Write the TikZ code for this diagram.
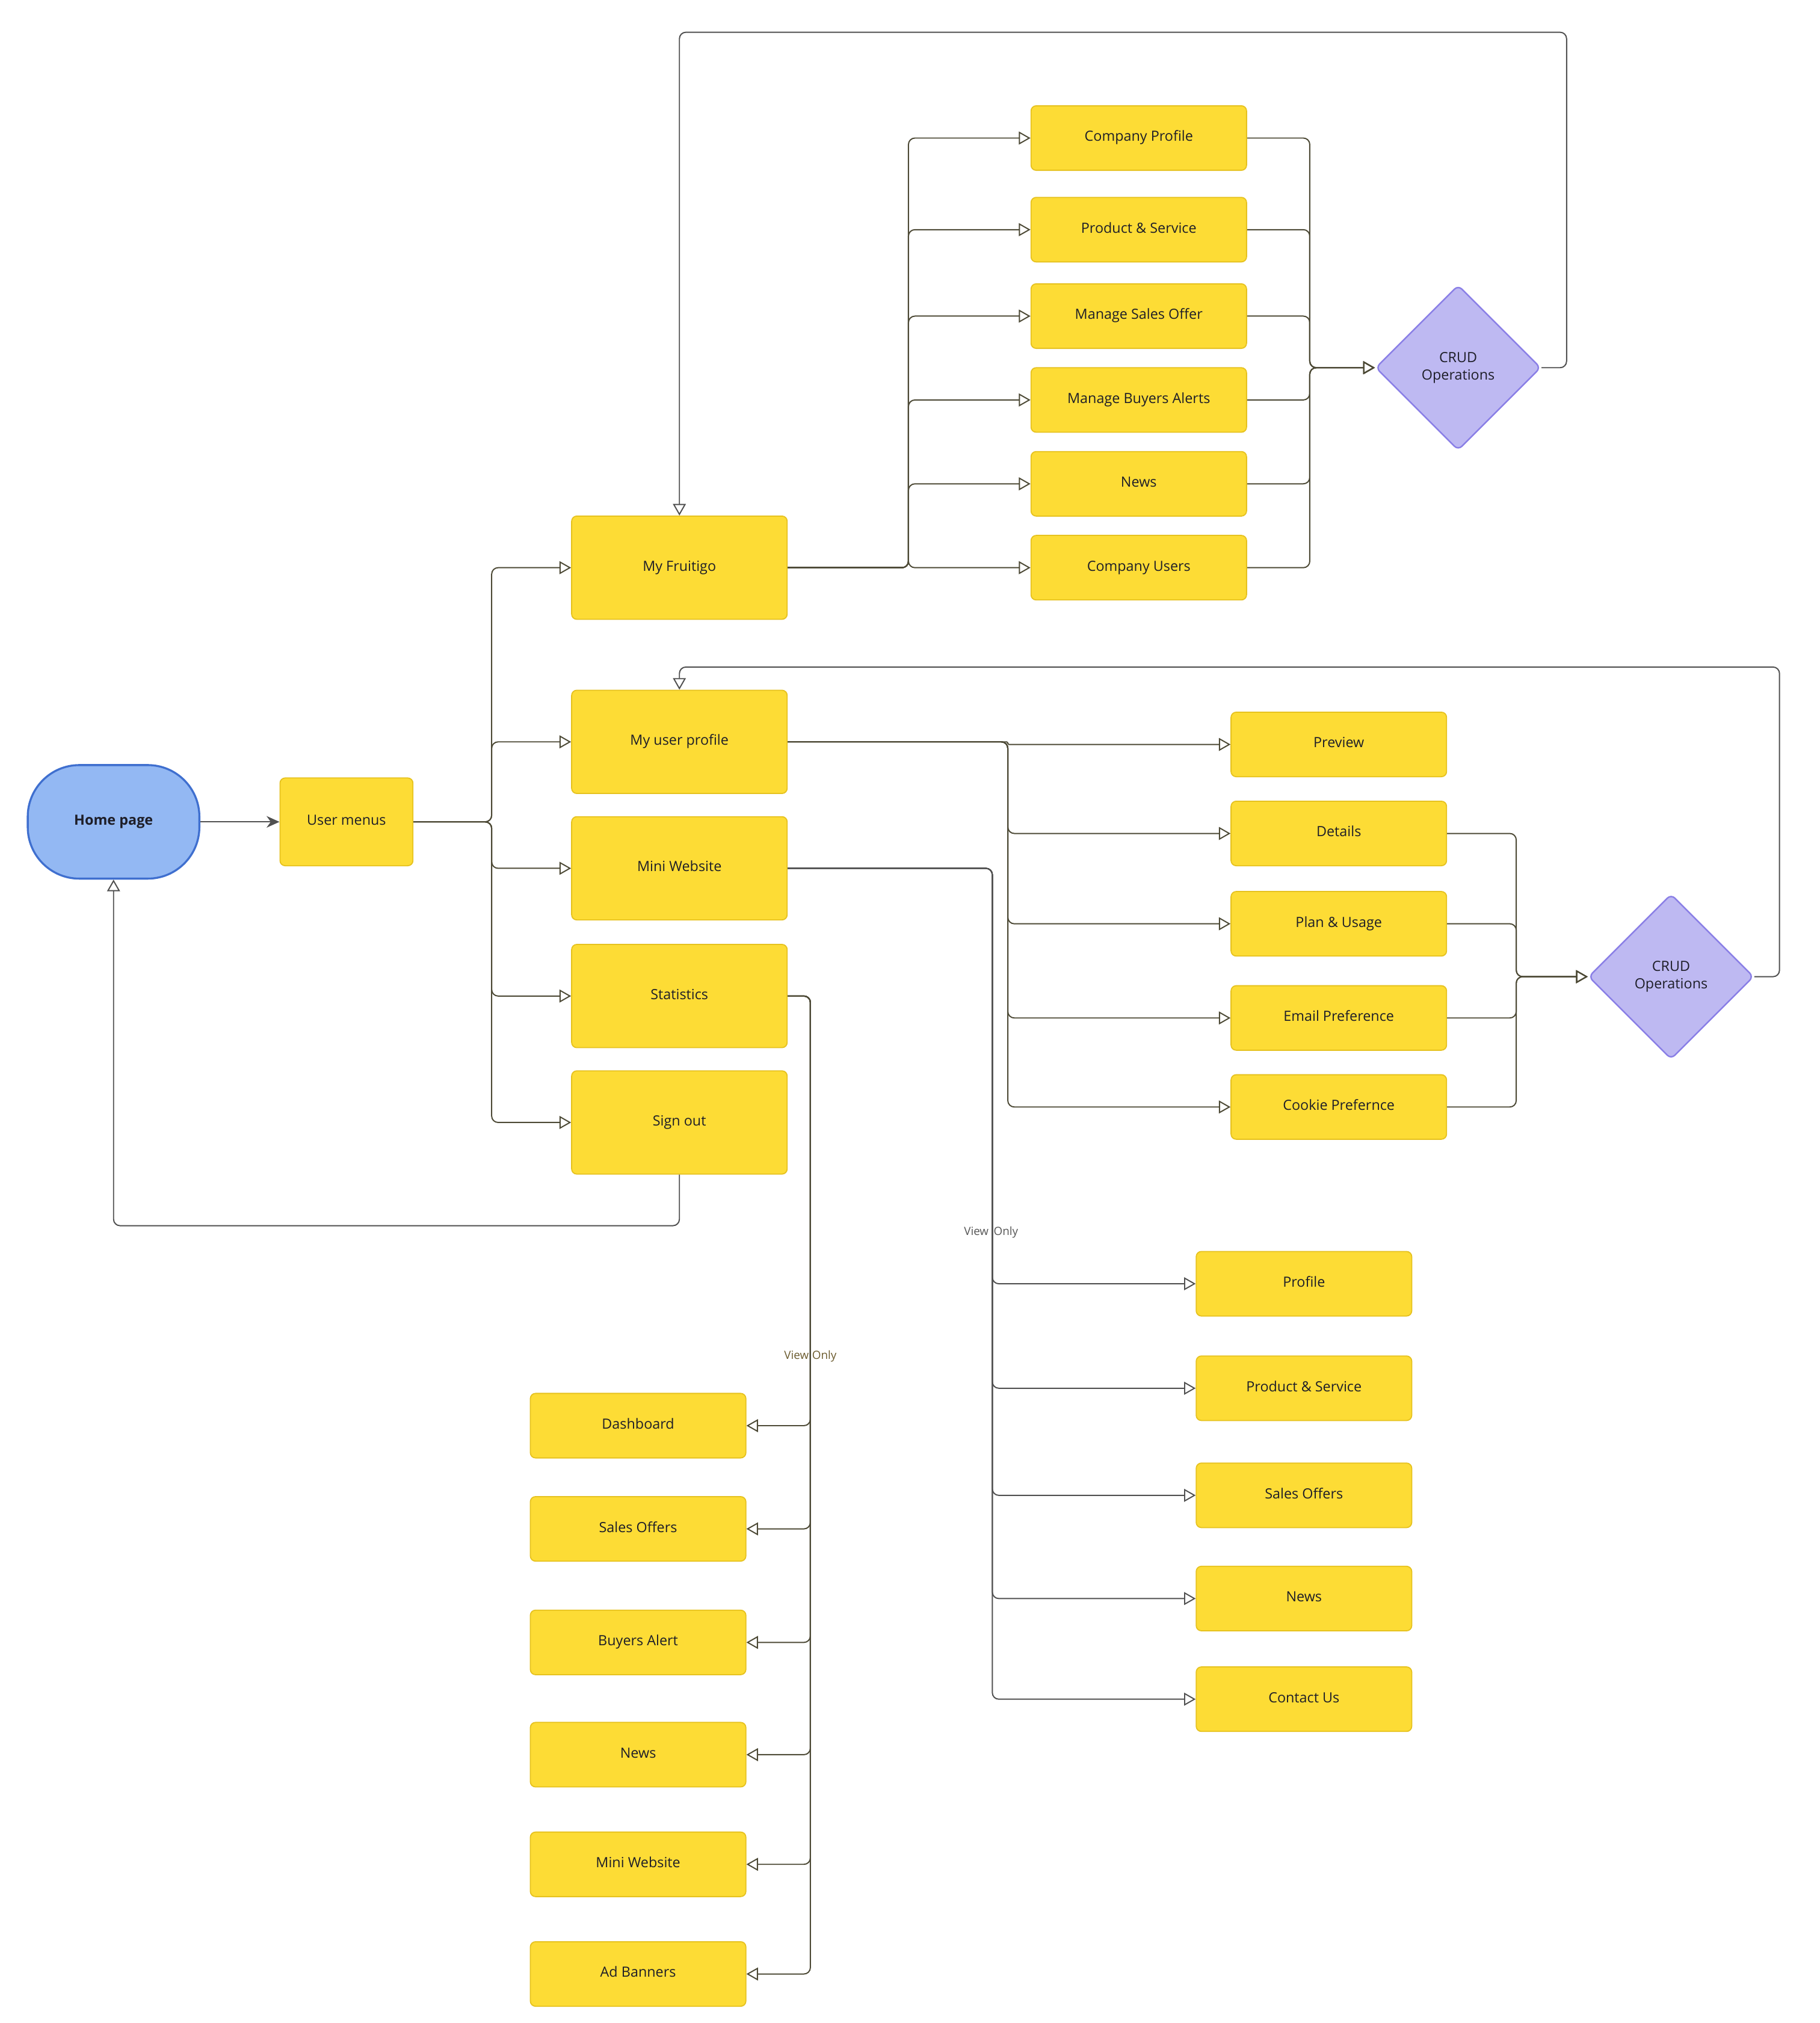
\documentclass[tikz,border=0pt]{standalone}
\usepackage{fontspec}
\setmainfont{Open Sans}
\usetikzlibrary{arrows.meta,shapes.geometric}
\definecolor{boxfill}{HTML}{FDDC35}
\definecolor{boxdraw}{HTML}{E6C21F}
\definecolor{homefill}{HTML}{93B8F3}
\definecolor{homedraw}{HTML}{3F6FCF}
\definecolor{crudfill}{HTML}{BEB9F2}
\definecolor{cruddraw}{HTML}{8A7FE6}
\definecolor{linec}{HTML}{4D4A36}
\definecolor{lineg}{HTML}{505050}
\definecolor{txt}{HTML}{1E1E28}
\definecolor{lblbrown}{HTML}{6B5B2E}
\definecolor{lblgray}{HTML}{555555}
\begin{document}
\begin{tikzpicture}[x=0.5mm,y=-0.5mm,
  font=\fontsize{15.5}{19}\selectfont, text=txt,
  bigbox/.style={draw=boxdraw, fill=boxfill, line width=1.2pt, rounded corners=2mm,
    minimum width=83.5mm, minimum height=40mm, inner sep=0pt, text height=0.72em, text depth=0pt},
  smallbox/.style={bigbox, minimum height=25mm},
  menubox/.style={bigbox, minimum width=51.5mm, minimum height=34mm},
  homebox/.style={draw=homedraw, fill=homefill, line width=2.2pt, rounded corners=20mm,
    minimum width=66.5mm, minimum height=44mm, inner sep=0pt, text height=0.72em, text depth=0pt,
    font=\fontsize{15.5}{19}\selectfont\bfseries},
  crud/.style={diamond, draw=cruddraw, fill=crudfill, line width=1.6pt, minimum width=64mm,
    minimum height=64mm, inner sep=0pt, rounded corners=2mm, align=center},
  conn/.style={draw=linec, line width=1.3pt, rounded corners=2.5mm},
  oarr/.style={conn, -{Triangle[open, length=4.5mm, width=5mm, line width=1.3pt]}},
  garr/.style={oarr, draw=lineg},
  harr/.style={draw=lineg, line width=1.3pt, -{Stealth[length=5mm, width=4.5mm]}},
  lbl/.style={font=\fontsize{12.5}{15}\selectfont, inner sep=0pt}
]
\useasboundingbox (0,0) rectangle (1410,1568);

% main nodes
\node[homebox] (home) at (88,637) {Home page};
\node[menubox] (um) at (268.5,637) {User menus};

\node[bigbox] (mf)  at (526.5,440) {My Fruitigo};
\node[bigbox] (mup) at (526.5,575) {My user profile};
\node[bigbox] (mw)  at (526.5,673) {Mini Website};
\node[bigbox] (st)  at (526.5,772) {Statistics};
\node[bigbox] (so)  at (526.5,870) {Sign out};

% My Fruitigo group
\node[smallbox] (cp)  at (882.5,107) {Company Profile};
\node[smallbox] (ps)  at (882.5,178) {Product \& Service};
\node[smallbox] (mso) at (882.5,245) {Manage Sales Offer};
\node[smallbox] (mba) at (882.5,310) {Manage Buyers Alerts};
\node[smallbox] (nw)  at (882.5,375) {News};
\node[smallbox] (cu)  at (882.5,440) {Company Users};
\node[crud] (crudA) at (1130,285) {CRUD\\Operations};

% My user profile group
\node[smallbox] (pv) at (1037.5,577) {Preview};
\node[smallbox] (dt) at (1037.5,646) {Details};
\node[smallbox] (pu) at (1037.5,716) {Plan \& Usage};
\node[smallbox] (ep) at (1037.5,789) {Email Preference};
\node[smallbox] (ck) at (1037.5,858) {Cookie Prefernce};
\node[crud] (crudB) at (1295,757) {CRUD\\Operations};

% Mini website group
\node[smallbox] (pr)  at (1010.5,995)  {Profile};
\node[smallbox] (psB) at (1010.5,1076) {Product \& Service};
\node[smallbox] (soB) at (1010.5,1159) {Sales Offers};
\node[smallbox] (nwB) at (1010.5,1239) {News};
\node[smallbox] (cuB) at (1010.5,1317) {Contact Us};

% Statistics group
\node[smallbox] (db)  at (494.5,1105) {Dashboard};
\node[smallbox] (sof) at (494.5,1185) {Sales Offers};
\node[smallbox] (ba)  at (494.5,1273) {Buyers Alert};
\node[smallbox] (nwC) at (494.5,1360) {News};
\node[smallbox] (mwC) at (494.5,1445) {Mini Website};
\node[smallbox] (ab)  at (494.5,1530) {Ad Banners};

% connectors
\draw[harr] (home) -- (um);
\foreach \n in {mf,mup,mw,st,so}
  \draw[oarr] (um.east) -- (381,637) |- (\n.west);

\foreach \n in {cp,ps,mso,mba,nw,cu}
  \draw[oarr] (mf.east) -- (704,440) |- (\n.west);
\foreach \n in {cp,ps,mso,mba,nw,cu}
  \draw[oarr] (\n.east) -| (1015,285) -- (crudA.west);
\draw[garr] (crudA.east) -| (1214,25) -| (mf.north);

\draw[oarr, rounded corners=0.4mm] (mup.east) -- (781,575) |- (pv.west);
\foreach \n in {dt,pu,ep,ck}
  \draw[oarr] (mup.east) -- (781,575) |- (\n.west);
\foreach \n in {dt,pu,ep,ck}
  \draw[oarr] (\n.east) -| (1175,757) -- (crudB.west);
\draw[garr] (crudB.east) -| (1379,517) -| (mup.north);

\foreach \n in {pr,psB,soB,nwB,cuB}
  \draw[garr] (mw.east) -- (769,673) |- (\n.west);
\node[lbl, text=lblgray] (vo1) at (768,955) {View\hspace{0.45em}Only};

\foreach \n in {db,sof,ba,nwC,mwC,ab}
  \draw[oarr] (st.east) -- (628,772) |- (\n.east);
\node[lbl, text=lblbrown] (vo2) at (628,1051) {View\hspace{0.3em}Only};

\draw[garr] (so.south) -- (526.5,950) -| (home.south);
\end{tikzpicture}
\end{document}
